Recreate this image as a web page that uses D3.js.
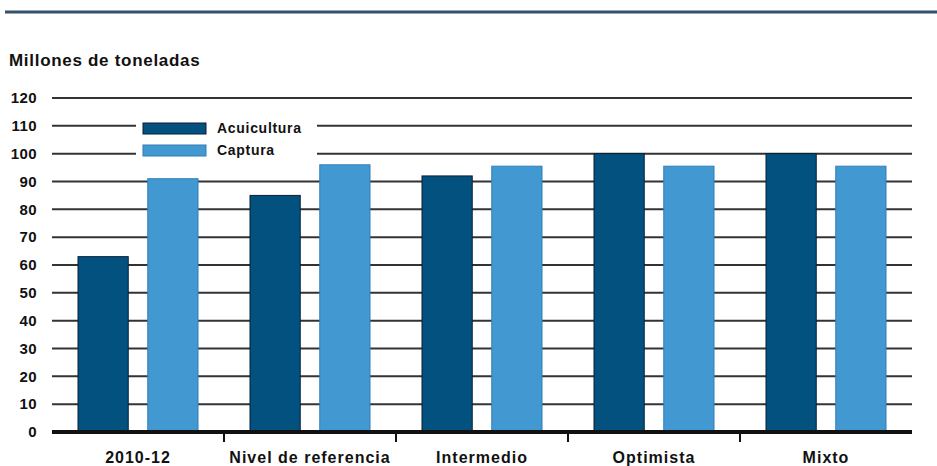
<!DOCTYPE html>
<html>
<head>
<meta charset="utf-8">
<script src="https://cdn.jsdelivr.net/npm/d3@7"></script>
<style>
  body { margin: 0; background: #fff; }
  svg text { font-family: "Liberation Sans", Arial, sans-serif; font-weight: bold; fill: #111; }
</style>
</head>
<body>
<svg width="937" height="466"></svg>
<script>
var categories = ["2010-12", "Nivel de referencia", "Intermedio", "Optimista", "Mixto"];
var series = ["Acuicultura", "Captura"];
var acuicultura = [63, 85, 92, 100, 100];
var captura = [91, 96, 95.5, 95.5, 95.5];
var yTicks = [0, 10, 20, 30, 40, 50, 60, 70, 80, 90, 100, 110, 120];

var colors = { Acuicultura: "#03517f", Captura: "#4299d2" };
var strokes = { Acuicultura: "#0b1f35", Captura: "#2f7fb8" };

var svg = d3.select("svg");

var plotLeft = 52, plotRight = 912, plotTop = 98, plotBottom = 432;

var x0 = d3.scaleBand().domain(categories).range([plotLeft, plotRight]).padding(0);
var x1 = d3.scaleBand().domain(series).range([26, x0.bandwidth() - 26]).paddingInner(0.28);
var y = d3.scaleLinear().domain([0, 120]).range([plotBottom, plotTop]);

// top rule
svg.append("line")
  .attr("x1", 5).attr("x2", 937).attr("y1", 12).attr("y2", 12)
  .attr("stroke", "#34506c").attr("stroke-width", 3);

svg.append("text")
  .attr("x", 9).attr("y", 66)
  .style("font-size", "17px")
  .style("letter-spacing", "0.7px")
  .text("Millones de toneladas");

// gridlines
svg.append("g")
  .selectAll("line")
  .data(yTicks.filter(d => d > 0))
  .enter()
  .append("line")
  .attr("x1", plotLeft).attr("x2", plotRight)
  .attr("y1", d => y(d)).attr("y2", d => y(d))
  .attr("stroke", "#333").attr("stroke-width", 2);

// y labels
svg.append("g")
  .selectAll("text")
  .data(yTicks)
  .enter()
  .append("text")
  .attr("x", 37)
  .attr("y", d => y(d))
  .attr("dy", "0.35em")
  .attr("text-anchor", "end")
  .style("font-size", "15px")
  .style("letter-spacing", "0.4px")
  .text(d => d);

// bars
var rows = categories.map((c, i) => ({ cat: c, Acuicultura: acuicultura[i], Captura: captura[i] }));

var groups = svg.append("g")
  .selectAll("g")
  .data(rows)
  .enter()
  .append("g")
  .attr("transform", d => "translate(" + x0(d.cat) + ",0)");

groups.selectAll("rect")
  .data(d => series.map(s => ({ key: s, value: d[s] })))
  .enter()
  .append("rect")
  .attr("x", d => x1(d.key))
  .attr("width", x1.bandwidth())
  .attr("y", d => y(d.value))
  .attr("height", d => y(0) - y(d.value))
  .attr("fill", d => colors[d.key])
  .attr("stroke", d => strokes[d.key])
  .attr("stroke-width", 1);

// baseline + category labels
var xAxis = d3.axisBottom(x0).tickSize(0).tickPadding(20);
var ax = svg.append("g")
  .attr("transform", "translate(0," + plotBottom + ")")
  .call(xAxis);
ax.select(".domain").attr("stroke", "#111").attr("stroke-width", 4).attr("d", "M" + plotLeft + ",0H" + plotRight);
ax.selectAll("text")
  .style("font-size", "16px")
  .style("letter-spacing", "1px")
  .style("font-family", "Liberation Sans, Arial, sans-serif")
  .style("font-weight", "bold")
  .attr("fill", "#111");

svg.append("g")
  .selectAll("line")
  .data(categories.slice(1))
  .enter()
  .append("line")
  .attr("x1", d => x0(d)).attr("x2", d => x0(d))
  .attr("y1", plotBottom).attr("y2", plotBottom + 10)
  .attr("stroke", "#111").attr("stroke-width", 2);

// legend
var legend = svg.append("g");
legend.append("rect")
  .attr("x", 136).attr("y", 116).attr("width", 181).attr("height", 46)
  .attr("fill", "#fff");
series.forEach(function (s, i) {
  legend.append("rect")
    .attr("x", 143).attr("y", 123 + i * 22)
    .attr("width", 63).attr("height", 11)
    .attr("fill", colors[s])
    .attr("stroke", strokes[s]);
  legend.append("text")
    .attr("x", 217).attr("y", 128 + i * 22)
    .attr("dy", "0.35em")
    .style("font-size", "14px")
    .style("letter-spacing", "0.7px")
    .text(s);
});
</script>
</body>
</html>
